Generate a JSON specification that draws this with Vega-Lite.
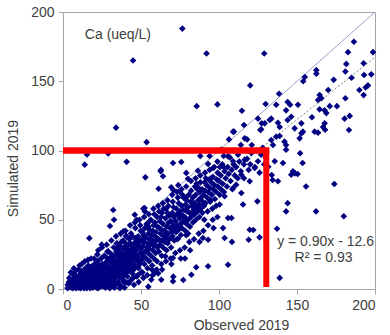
{
"$schema": "https://vega.github.io/schema/vega-lite/v6.json",
"width": 312, "height": 277,
"autosize": {"type": "none"},
"padding": {"left": 63, "top": 12, "right": 15, "bottom": 46},
"background": "white",
"config": {
 "view": {"stroke": "#A6A6A6", "strokeWidth": 1},
 "font": "Liberation Sans",
 "axis": {"grid": false, "domainColor": "#A6A6A6", "tickColor": "#A6A6A6", "tickSize": 5, "labelFontSize": 14, "labelColor": "#404040", "titleFontSize": 14, "titleColor": "#404040", "titleFontWeight": "normal", "labelFont": "Liberation Sans", "titleFont": "Liberation Sans"}
},
"datasets": {
 "one": [{"x": 0, "y": 0}, {"x": 200, "y": 200}],
 "trend": [{"x": 14, "y": 0}, {"x": 200, "y": 167.4}],
 "pts": [
{"x":3,"y":0.5},{"x":4.3,"y":2},{"x":3.8,"y":5},{"x":5.2,"y":1},{"x":5.4,"y":3.5},{"x":4.8,"y":7},{"x":6.3,"y":0.5},{"x":6.1,"y":2.5},{"x":6.6,"y":5},{"x":7.2,"y":1.5},{"x":7.5,"y":4},{"x":7,"y":8},{"x":8.4,"y":0.5},{"x":8.1,"y":3},{"x":8.6,"y":6},{"x":8.2,"y":9.5},{"x":9.3,"y":2},{"x":9.1,"y":4.5},{"x":9.6,"y":7.5},{"x":10.2,"y":1},{"x":10.5,"y":3.5},{"x":10,"y":6},{"x":10.4,"y":9},
{"x":11.3,"y":0.5},{"x":11,"y":4},{"x":11.6,"y":8},{"x":11.2,"y":11},{"x":12.4,"y":2},{"x":12,"y":6},{"x":12.7,"y":9.5},{"x":12.2,"y":13},{"x":13.5,"y":0.5},{"x":13.1,"y":3.5},{"x":13.6,"y":7},{"x":13.2,"y":10.5},{"x":14.3,"y":1.5},{"x":14,"y":5},{"x":14.6,"y":8.5},{"x":14.1,"y":12},{"x":14.4,"y":15},{"x":15.2,"y":0.5},{"x":15.7,"y":3},{"x":15.1,"y":6.5},{"x":15.5,"y":10},{"x":15.8,"y":13.5},{"x":16.3,"y":2},{"x":16.6,"y":5},{"x":16.1,"y":8},{"x":16.7,"y":11.5},{"x":16.2,"y":17},{"x":17.4,"y":0.5},{"x":17.1,"y":4},{"x":17.7,"y":7},{"x":17.2,"y":10},{"x":17.5,"y":14},{"x":18.3,"y":2.5},{"x":18.8,"y":6},{"x":18.1,"y":9},{"x":18.6,"y":12.5},{"x":18.4,"y":16},{"x":19.2,"y":1},{"x":19.6,"y":4.5},{"x":19.1,"y":8},{"x":19.8,"y":11},{"x":19.4,"y":15},{"x":20.1,"y":3},{"x":20.5,"y":6.5},{"x":20.2,"y":10},{"x":20.7,"y":13},{"x":20.3,"y":18},{"x":16.9,"y":36.7},{"x":24.8,"y":32},
{"x":21.4,"y":1},{"x":21.1,"y":5},{"x":21.8,"y":8.5},{"x":21.3,"y":12},{"x":21.6,"y":16},{"x":22.2,"y":3},{"x":22.7,"y":7},{"x":22.1,"y":10.5},{"x":22.5,"y":14},{"x":22.3,"y":20},{"x":23.6,"y":1.5},{"x":23.2,"y":5.5},{"x":23.8,"y":9},{"x":23.1,"y":13},{"x":23.5,"y":17},{"x":24.3,"y":3.5},{"x":24.1,"y":7.5},{"x":24.7,"y":11},{"x":24.2,"y":15},{"x":24.5,"y":22},{"x":25.3,"y":2},{"x":25.8,"y":6},{"x":25.1,"y":10},{"x":25.6,"y":13.5},{"x":25.2,"y":18},{"x":26.4,"y":4},{"x":26.1,"y":8},{"x":26.8,"y":12},{"x":26.3,"y":16},{"x":26.6,"y":24},{"x":27.2,"y":1},{"x":27.7,"y":6},{"x":27.1,"y":10},{"x":27.5,"y":14.5},{"x":27.3,"y":19},{"x":28.6,"y":3},{"x":28.2,"y":8},{"x":28.8,"y":12},{"x":28.1,"y":17},{"x":28.4,"y":22},{"x":29.3,"y":5},{"x":29.7,"y":10},{"x":29.1,"y":14},{"x":29.6,"y":20},{"x":29.2,"y":27},{"x":30.4,"y":2},{"x":30.1,"y":7},{"x":30.7,"y":12},{"x":30.2,"y":16},{"x":30.5,"y":22},
{"x":32.2,"y":57},{"x":32.7,"y":50},{"x":30.1,"y":45.5},{"x":38.7,"y":41.7},{"x":40.8,"y":38},{"x":46,"y":53.6},{"x":47.2,"y":50},{"x":52.3,"y":58.5},{"x":51.5,"y":58},
{"x":31.3,"y":4},{"x":31.7,"y":9},{"x":31.1,"y":14},{"x":31.5,"y":19},{"x":31.2,"y":25},{"x":32.4,"y":6},{"x":32.1,"y":11},{"x":32.8,"y":16},{"x":32.3,"y":21},{"x":32.6,"y":30},{"x":33.2,"y":3},{"x":33.6,"y":8},{"x":33.1,"y":13},{"x":33.7,"y":18},{"x":33.3,"y":24},{"x":34.4,"y":10},{"x":34.1,"y":15},{"x":34.7,"y":20},{"x":34.2,"y":27},{"x":34.5,"y":33},{"x":35.3,"y":5},{"x":35.8,"y":12},{"x":35.1,"y":17},{"x":35.6,"y":22},{"x":35.2,"y":28},{"x":36.4,"y":8},{"x":36.1,"y":14},{"x":36.7,"y":19},{"x":36.3,"y":24},{"x":36.5,"y":31},{"x":37.2,"y":2},{"x":37.6,"y":11},{"x":37.1,"y":16},{"x":37.8,"y":21},{"x":37.4,"y":26},{"x":38.1,"y":7},{"x":38.5,"y":13},{"x":38.2,"y":18},{"x":38.7,"y":23},{"x":38.3,"y":29},{"x":38.6,"y":35},{"x":39.4,"y":10},{"x":39.1,"y":15},{"x":39.7,"y":20},{"x":39.2,"y":25},{"x":40.3,"y":5},{"x":40.6,"y":12},{"x":40.1,"y":17},{"x":40.8,"y":22},{"x":40.4,"y":28},{"x":40.2,"y":33},
{"x":41.3,"y":9},{"x":41.7,"y":15},{"x":41.1,"y":20},{"x":41.5,"y":25},{"x":41.2,"y":31},{"x":42.4,"y":13},{"x":42.1,"y":18},{"x":42.8,"y":23},{"x":42.3,"y":28},{"x":42.6,"y":36},{"x":43.2,"y":6},{"x":43.7,"y":16},{"x":43.1,"y":21},{"x":43.5,"y":26},{"x":43.3,"y":32},{"x":44.6,"y":11},{"x":44.1,"y":19},{"x":44.7,"y":24},{"x":44.2,"y":29},{"x":44.4,"y":38},{"x":45.3,"y":14},{"x":45.8,"y":22},{"x":45.1,"y":27},{"x":45.5,"y":33},{"x":46.2,"y":17},{"x":46.6,"y":25},{"x":46.1,"y":30},{"x":46.8,"y":36},{"x":46.4,"y":44},{"x":47.3,"y":9},{"x":47.7,"y":20},{"x":47.1,"y":28},{"x":47.5,"y":33},{"x":48.4,"y":15},{"x":48.1,"y":23},{"x":48.7,"y":31},{"x":48.2,"y":38},{"x":49.3,"y":18},{"x":49.6,"y":26},{"x":49.1,"y":34},{"x":49.8,"y":42},{"x":50.2,"y":12},{"x":50.5,"y":21},{"x":50.1,"y":29},{"x":50.7,"y":36},
{"x":54.7,"y":1.7},{"x":56.6,"y":6.7},{"x":58.8,"y":11.6},
{"x":51.4,"y":24},{"x":51.1,"y":31},{"x":51.7,"y":39},{"x":52.2,"y":18},{"x":52.6,"y":27},{"x":52.1,"y":34},{"x":52.5,"y":44},{"x":53.3,"y":22},{"x":53.8,"y":30},{"x":53.1,"y":37},{"x":53.6,"y":47},{"x":54.2,"y":15},{"x":54.5,"y":26},{"x":54.1,"y":33},{"x":54.8,"y":40},{"x":55.3,"y":20},{"x":55.1,"y":29},{"x":55.7,"y":36},{"x":55.2,"y":43},{"x":56.4,"y":24},{"x":56.1,"y":32},{"x":56.8,"y":39},{"x":56.3,"y":50},{"x":57.2,"y":17},{"x":57.6,"y":28},{"x":57.1,"y":35},{"x":57.5,"y":42},{"x":58.3,"y":22},{"x":58.1,"y":31},{"x":58.7,"y":38},{"x":58.2,"y":46},{"x":59.4,"y":26},{"x":59.1,"y":34},{"x":59.6,"y":41},{"x":60.2,"y":20},{"x":60.6,"y":30},{"x":60.1,"y":37},{"x":60.5,"y":45},{"x":60.3,"y":52},
{"x":52.8,"y":80.6},{"x":61.3,"y":72.4},{"x":62.6,"y":85},{"x":64.1,"y":81.4},{"x":62.8,"y":86},
{"x":61,"y":11.3},{"x":63,"y":6.7},{"x":65.6,"y":23.6},{"x":70.5,"y":22.4},{"x":70.5,"y":5.6},{"x":70.7,"y":8.9},
{"x":61.4,"y":27},{"x":61.1,"y":36},{"x":61.7,"y":44},{"x":62.2,"y":32},{"x":62.5,"y":40},{"x":62.1,"y":49},{"x":63.3,"y":24},{"x":63.7,"y":35},{"x":63.1,"y":43},{"x":63.5,"y":55},{"x":64.2,"y":30},{"x":64.6,"y":38},{"x":64.1,"y":47},{"x":65.3,"y":34},{"x":65.1,"y":42},{"x":65.7,"y":51},{"x":66.4,"y":28},{"x":66.1,"y":37},{"x":66.6,"y":45},{"x":66.2,"y":58},{"x":67.3,"y":40},{"x":67.7,"y":48},{"x":67.1,"y":33},{"x":68.2,"y":36},{"x":68.6,"y":44},{"x":68.1,"y":53},{"x":69.3,"y":30},{"x":69.7,"y":41},{"x":69.1,"y":49},{"x":70.2,"y":38},{"x":70.6,"y":46},{"x":70.1,"y":55},{"x":70.4,"y":63},
{"x":69.4,"y":73.4},{"x":70.5,"y":91},{"x":70.7,"y":71.5},{"x":73.9,"y":75},{"x":74.8,"y":70.5},{"x":75.8,"y":91.7},
{"x":71.3,"y":35},{"x":71.6,"y":44},{"x":71.1,"y":52},{"x":72.4,"y":41},{"x":72.1,"y":49},{"x":72.7,"y":58},{"x":73.2,"y":36},{"x":73.5,"y":46},{"x":73.1,"y":54},{"x":74.3,"y":43},{"x":74.7,"y":51},{"x":74.2,"y":62},{"x":75.4,"y":47},{"x":75.1,"y":56},{"x":75.6,"y":39},{"x":76.2,"y":44},{"x":76.7,"y":53},{"x":76.1,"y":60},{"x":77.3,"y":49},{"x":77.6,"y":57},{"x":77.2,"y":66},{"x":78.4,"y":42},{"x":78.1,"y":52},{"x":78.6,"y":61},{"x":79.2,"y":47},{"x":79.5,"y":56},{"x":79.1,"y":64},{"x":80.3,"y":50},{"x":80.1,"y":59},{"x":80.6,"y":68},{"x":80.2,"y":40},
{"x":73.7,"y":36.3},{"x":79,"y":38.8},{"x":77.1,"y":6.5},{"x":78.2,"y":22},{"x":82.3,"y":10.3},
{"x":79,"y":83.8},{"x":80.1,"y":79.6},
{"x":81.4,"y":45},{"x":81.1,"y":55},{"x":81.7,"y":63},{"x":82.2,"y":52},{"x":82.6,"y":60},{"x":82.1,"y":71},{"x":83.3,"y":48},{"x":83.7,"y":57},{"x":83.2,"y":66},{"x":84.4,"y":54},{"x":84.1,"y":62},{"x":84.6,"y":74},{"x":85.2,"y":50},{"x":85.5,"y":59},{"x":85.1,"y":68},{"x":86.3,"y":56},{"x":86.7,"y":64},{"x":86.2,"y":72},{"x":87.4,"y":52},{"x":87.1,"y":61},{"x":87.6,"y":70},{"x":88.2,"y":58},{"x":88.5,"y":66},{"x":88.1,"y":77},{"x":89.3,"y":55},{"x":89.6,"y":63},{"x":89.2,"y":72},{"x":90.4,"y":60},{"x":90.1,"y":68},{"x":90.6,"y":50},
{"x":86.5,"y":85.4},{"x":93,"y":90.3},{"x":96.2,"y":87.4},{"x":89.7,"y":36.8},{"x":93,"y":35.6},{"x":85.4,"y":15.7},{"x":93,"y":16.4},
{"x":91.3,"y":62},{"x":91.1,"y":71},{"x":92.4,"y":66},{"x":92.1,"y":75},{"x":92.7,"y":56},{"x":93.2,"y":70},{"x":93.6,"y":79},{"x":94.3,"y":63},{"x":94.1,"y":73},{"x":95.4,"y":68},{"x":95.1,"y":77},{"x":95.7,"y":58},{"x":96.3,"y":72},{"x":96.1,"y":81},{"x":97.4,"y":65},{"x":97.1,"y":75},{"x":98.2,"y":70},{"x":98.6,"y":79},{"x":98.1,"y":60},{"x":99.3,"y":74},{"x":99.1,"y":84},{"x":100.4,"y":68},{"x":100.1,"y":78},{"x":100.6,"y":88},
{"x":88,"y":96},{"x":94,"y":96},{"x":103,"y":96},{"x":99,"y":92},{"x":107,"y":95},
{"x":101.3,"y":72},{"x":101.1,"y":82},{"x":102.4,"y":76},{"x":102.1,"y":90},{"x":103.2,"y":70},{"x":103.5,"y":85},{"x":104.3,"y":80},{"x":105.1,"y":74},{"x":105.6,"y":88},{"x":106.2,"y":83},{"x":107.4,"y":78},{"x":108.2,"y":86},{"x":108.6,"y":72},{"x":109.3,"y":90},{"x":110.1,"y":82},
{"x":103.6,"y":36.8},{"x":108.3,"y":34},{"x":105.8,"y":17.5},
{"x":109,"y":72.9},{"x":103.6,"y":67},{"x":100.4,"y":61},{"x":114.3,"y":69.3},{"x":115.4,"y":61},{"x":108,"y":51.3},{"x":105.8,"y":51.3},{"x":102.6,"y":44},
{"x":101.5,"y":100.6},{"x":105.8,"y":95.8},{"x":109,"y":92.2},{"x":112.2,"y":97},{"x":116.5,"y":93.4},{"x":120.7,"y":98.2},{"x":125,"y":92.2},{"x":122.9,"y":87.4},{"x":103.6,"y":87.4},{"x":114.3,"y":82.5},{"x":119.7,"y":77.8},{"x":111,"y":75.3},
{"x":111,"y":88},{"x":112,"y":80},{"x":113,"y":92},{"x":114,"y":85},{"x":116,"y":90},{"x":116,"y":80},{"x":118,"y":94},{"x":119,"y":86},{"x":120,"y":90},{"x":123,"y":88},{"x":126,"y":84},{"x":127,"y":97},{"x":129,"y":90},
{"x":119.7,"y":42.8},{"x":119,"y":35.6},{"x":126,"y":37.3},{"x":122,"y":42.6},{"x":124.6,"y":63.3},
{"x":15.4,"y":97.2},{"x":29,"y":97.8},{"x":13.9,"y":89.8},{"x":40.8,"y":91.8},{"x":34,"y":116.5},{"x":53.6,"y":106},{"x":44.9,"y":165},{"x":76.5,"y":188},{"x":92,"y":170},{"x":85.7,"y":132},{"x":99,"y":133.3},
{"x":135.7,"y":92.2},{"x":141,"y":91},{"x":147.4,"y":85},{"x":146.3,"y":82.5},{"x":137.8,"y":77.8},{"x":144,"y":62},{"x":143,"y":56},{"x":137.2,"y":43.5},{"x":138.9,"y":8},{"x":143,"y":100.6},{"x":134.4,"y":78.7},{"x":148.7,"y":83.5},{"x":131.6,"y":88.3},{"x":133.8,"y":82.3},
{"x":152,"y":98},{"x":153.6,"y":91},{"x":150.4,"y":83},{"x":155.8,"y":74},{"x":173.9,"y":75.8},{"x":162.2,"y":56},{"x":180,"y":52.5},
{"x":129,"y":170},{"x":120,"y":147},{"x":186.5,"y":178.5},{"x":198.7,"y":171},{"x":182.7,"y":171},{"x":181.6,"y":162.5},{"x":192.7,"y":163},{"x":162.4,"y":158},{"x":162.4,"y":155.5},{"x":181,"y":157},{"x":193,"y":154.5},{"x":197.6,"y":155},{"x":155,"y":153},{"x":154,"y":150},{"x":173.5,"y":151},{"x":185,"y":152.5},{"x":195.5,"y":147},{"x":194,"y":145.5},{"x":190,"y":143.7},{"x":192.7,"y":140},{"x":170,"y":143.7},{"x":138.5,"y":141},{"x":164.5,"y":140},{"x":163.5,"y":136.5},{"x":165.6,"y":137.7},{"x":181,"y":137.7},{"x":144,"y":135},{"x":145.6,"y":133},{"x":136.7,"y":133},{"x":150.6,"y":133},{"x":129.9,"y":133.6},{"x":164.5,"y":129.7},{"x":171,"y":132},{"x":175.6,"y":132},{"x":114.7,"y":128.7},{"x":143,"y":129},{"x":146.3,"y":124.4},{"x":144,"y":122},{"x":167.7,"y":129},{"x":168.8,"y":127},{"x":180.5,"y":123},{"x":183.8,"y":125},{"x":159.6,"y":124},{"x":152.8,"y":119.6},{"x":148.5,"y":116},{"x":153.8,"y":113.6},{"x":133.5,"y":123},{"x":132.5,"y":122},{"x":125,"y":123},{"x":116,"y":118.4},{"x":127,"y":115.3},{"x":129.3,"y":119.6},{"x":137.8,"y":120},{"x":138.9,"y":117},{"x":167.7,"y":119.6},{"x":166.7,"y":117},{"x":168,"y":115},{"x":161.3,"y":113.6},{"x":163.5,"y":112.9},{"x":183.3,"y":114.8},{"x":109.6,"y":113.6},{"x":106.4,"y":108},{"x":116.5,"y":108.8},{"x":133.5,"y":107.6},{"x":136.7,"y":110},{"x":138.9,"y":110.5},{"x":142,"y":106.4},{"x":143,"y":104},{"x":134.6,"y":104},{"x":152.8,"y":112.4},{"x":151.7,"y":108.8},{"x":126.5,"y":114.8},{"x":109,"y":113.6},{"x":127.4,"y":119.6},
{"x":117,"y":100},{"x":121,"y":104},{"x":124,"y":100},{"x":128,"y":102},{"x":130,"y":95},{"x":114,"y":104},{"x":109,"y":100},{"x":118,"y":108},
{"x":22,"y":25},{"x":22.6,"y":28},{"x":25,"y":30},{"x":28,"y":32},{"x":28.5,"y":27},{"x":31,"y":35},{"x":34,"y":38},{"x":34.6,"y":30},{"x":37,"y":40},{"x":37.5,"y":34},{"x":40,"y":42},{"x":40.5,"y":38},{"x":43,"y":46},{"x":43.6,"y":40},{"x":46,"y":48},{"x":49,"y":50},{"x":49.5,"y":46},{"x":52,"y":52},{"x":52.5,"y":56},{"x":55,"y":54},{"x":55.6,"y":49},{"x":58,"y":58},{"x":58.5,"y":54},{"x":61,"y":60},{"x":61.6,"y":56},{"x":64,"y":62},{"x":64.5,"y":58},{"x":67,"y":64},{"x":67.5,"y":60},{"x":70,"y":68},{"x":73,"y":70},{"x":73.6,"y":66},{"x":76,"y":72},{"x":76.5,"y":68},{"x":79,"y":74},{"x":82,"y":78},{"x":85,"y":80},{"x":85.6,"y":76},{"x":88,"y":82},{"x":91,"y":84},{"x":91.5,"y":80},{"x":94,"y":86},{"x":97,"y":88},
{"x":30,"y":0.5},{"x":33,"y":1},{"x":36,"y":3},{"x":36.5,"y":0.5},{"x":39,"y":5},{"x":39.5,"y":1},{"x":42,"y":4},{"x":45,"y":8},{"x":45.5,"y":3},{"x":48,"y":10},{"x":48.5,"y":5},{"x":51,"y":12},{"x":51.5,"y":8},{"x":54,"y":10},{"x":57,"y":14},{"x":57.5,"y":10},{"x":60,"y":14},{"x":63,"y":18},{"x":63.5,"y":14},{"x":66,"y":20},{"x":69,"y":22},{"x":69.5,"y":18},{"x":72,"y":26},{"x":75,"y":28},{"x":75.5,"y":22},{"x":78,"y":30},{"x":81,"y":34},{"x":81.5,"y":28},{"x":84,"y":36},{"x":87,"y":40},{"x":87.5,"y":34},{"x":90,"y":42},{"x":93,"y":46},{"x":96,"y":50},{"x":96.5,"y":44},{"x":99,"y":52},
{"x":22.5,"y":0.5},{"x":22.8,"y":15},{"x":26.5,"y":4},{"x":26.9,"y":18},{"x":30.6,"y":23},{"x":34.5,"y":11},{"x":34.9,"y":26},{"x":38.5,"y":14},{"x":38.9,"y":30},{"x":42.5,"y":17},{"x":42.9,"y":33},{"x":46.5,"y":21},{"x":46.9,"y":37},{"x":50.5,"y":25},{"x":50.9,"y":41},{"x":54.5,"y":28},{"x":54.9,"y":45},{"x":58.5,"y":32},{"x":58.9,"y":48},{"x":62.5,"y":35},{"x":62.9,"y":52},{"x":66.5,"y":39},{"x":66.9,"y":55},{"x":70.5,"y":43},{"x":70.9,"y":59},{"x":74.5,"y":46},{"x":74.9,"y":54},{"x":78.5,"y":50},{"x":78.9,"y":66},{"x":82.5,"y":54},{"x":82.9,"y":62},{"x":86.5,"y":57},{"x":86.9,"y":73},{"x":90.5,"y":61},{"x":90.9,"y":77},{"x":94.5,"y":64},{"x":94.9,"y":80},
{"x":3,"y":3},{"x":4,"y":8},{"x":6,"y":11},{"x":8,"y":13},{"x":10,"y":14},{"x":10.6,"y":17},{"x":12,"y":18},{"x":14,"y":20},{"x":16,"y":21},{"x":18,"y":22},{"x":20,"y":22},{"x":5,"y":12},{"x":7,"y":15}
 ]
},
"layer": [
 {"data": {"name": "one"}, "mark": {"type": "line", "color": "#9C9CCF", "strokeWidth": 1, "clip": true},
  "encoding": {"x": {"field": "x", "type": "quantitative", "scale": {"domain": [0, 200], "nice": false},
     "axis": {"values": [0, 50, 100, 150, 200], "title": "Observed 2019", "titleX": 178, "titleY": 36, "titleBaseline": "middle", "labelPadding": 4}},
   "y": {"field": "y", "type": "quantitative", "scale": {"domain": [0, 200], "nice": false},
     "axis": {"values": [0, 50, 100, 150, 200], "title": "Simulated 2019", "titleX": -50, "titleY": 156, "titleBaseline": "middle", "titleAngle": 270, "labelPadding": 4}}}},
 {"data": {"name": "trend"}, "mark": {"type": "line", "color": "#808080", "strokeWidth": 1, "strokeDash": [2, 2], "clip": true},
  "encoding": {"x": {"field": "x", "type": "quantitative"}, "y": {"field": "y", "type": "quantitative"}}},
 {"data": {"name": "pts"}, "mark": {"type": "point", "shape": "diamond", "filled": true, "color": "#000080", "size": 44, "opacity": 1},
  "encoding": {"x": {"field": "x", "type": "quantitative"}, "y": {"field": "y", "type": "quantitative"}}},
 {"data": {"values": [{}]}, "mark": {"type": "rule", "color": "#FF0000", "strokeWidth": 6.5},
  "encoding": {"x": {"datum": 0}, "x2": {"datum": 132.3}, "y": {"datum": 100}}},
 {"data": {"values": [{}]}, "mark": {"type": "rule", "color": "#FF0000", "strokeWidth": 6},
  "encoding": {"x": {"datum": 130.3}, "y": {"datum": 1.5}, "y2": {"datum": 100}}},
 {"data": {"values": [{}]}, "mark": {"type": "text", "text": "Ca (ueq/L)", "align": "left", "baseline": "middle", "fontSize": 14, "color": "#404040", "font": "Liberation Sans"},
  "encoding": {"x": {"datum": 14}, "y": {"datum": 183.4}}},
 {"data": {"values": [{}]}, "mark": {"type": "text", "text": "y = 0.90x - 12.6", "align": "right", "baseline": "middle", "fontSize": 14, "color": "#404040", "font": "Liberation Sans"},
  "encoding": {"x": {"datum": 199.4}, "y": {"datum": 33.9}}},
 {"data": {"values": [{}]}, "mark": {"type": "text", "text": "R² = 0.93", "align": "center", "baseline": "middle", "fontSize": 14, "color": "#404040", "font": "Liberation Sans"},
  "encoding": {"x": {"datum": 167}, "y": {"datum": 22.4}}}
]
}
